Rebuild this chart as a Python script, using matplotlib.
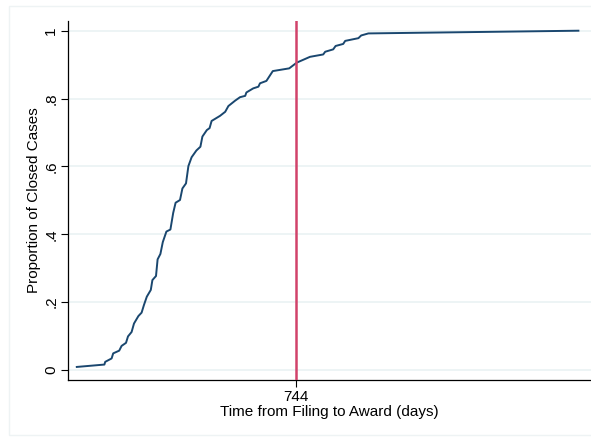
import matplotlib
matplotlib.use("Agg")
import matplotlib.pyplot as plt
from matplotlib.patches import Rectangle

# Cumulative share of closed cases by days from filing to award
days = [196, 265, 267, 283, 287, 302, 308, 319, 324, 333, 339, 350, 358, 364,
        371, 381, 385, 394, 398, 405, 411, 420, 430, 437, 443, 454, 460, 469,
        475, 483, 495, 505, 510, 521, 528, 533, 554, 567, 575, 592, 604, 617,
        620, 637, 650, 654, 670, 686, 727, 746, 779, 812, 817, 837, 843, 862,
        867, 900, 907, 925, 1450]
share = [0.009, 0.016, 0.024, 0.034, 0.049, 0.057, 0.071, 0.080, 0.099, 0.112,
         0.137, 0.159, 0.169, 0.192, 0.216, 0.236, 0.265, 0.277, 0.326, 0.342,
         0.377, 0.408, 0.414, 0.463, 0.493, 0.501, 0.535, 0.550, 0.601, 0.627,
         0.647, 0.658, 0.688, 0.707, 0.713, 0.734, 0.749, 0.761, 0.778, 0.794,
         0.804, 0.808, 0.818, 0.830, 0.835, 0.845, 0.852, 0.881, 0.889, 0.906,
         0.923, 0.930, 0.938, 0.945, 0.955, 0.961, 0.970, 0.978, 0.986, 0.992,
         1.000]
marker_day = 744
y_ticks = [0, 0.2, 0.4, 0.6, 0.8, 1.0]
y_tick_labels = ["0", ".2", ".4", ".6", ".8", "1"]

plt.rcParams['font.family'] = ['Liberation Sans', 'DejaVu Sans']

W, H = 591, 438
fig = plt.figure(figsize=(W / 100, H / 100), dpi=100)
fig.patch.set_facecolor("white")

# faint outer graph-region frame
fig.add_artist(Rectangle((9 / W, 3 / H), 1.0, (435 - 6) / H, transform=fig.transFigure,
                         fill=False, edgecolor="#eef3f4", linewidth=1.0))

left, right, top, bottom = 68, 591, 21, 380
ax = fig.add_axes([left / W, 1 - bottom / H, (right - left) / W, (bottom - top) / H])
ax.set_facecolor("white")

ax.set_xlim(174, 1481.5)
ax.set_ylim(-0.0295, 1.0286)

for yv in y_ticks:
    ax.axhline(yv, color="#eaf2f3", linewidth=1.2, zorder=0)

ax.plot(days, share, color="#1a476f", linewidth=1.4, zorder=3)
ax.axvline(marker_day, color="#d1436a", linewidth=1.8, zorder=4)

for side in ("top", "right"):
    ax.spines[side].set_visible(False)
for side in ("left", "bottom"):
    ax.spines[side].set_color("black")
    ax.spines[side].set_linewidth(0.9)

ax.set_yticks(y_ticks)
ax.set_yticklabels(y_tick_labels, rotation=90, va="center")
ax.set_xticks([marker_day])
ax.set_xticklabels([str(marker_day)])
ax.tick_params(axis="both", direction="out", length=5, width=0.8,
               labelsize=11, colors="black", pad=2)

ax.set_xlabel("Time from Filing to Award (days)", fontsize=11, labelpad=1)
ax.set_ylabel("Proportion of Closed Cases", fontsize=11, labelpad=2)

fig.savefig("out.png", dpi=100, facecolor="white")
